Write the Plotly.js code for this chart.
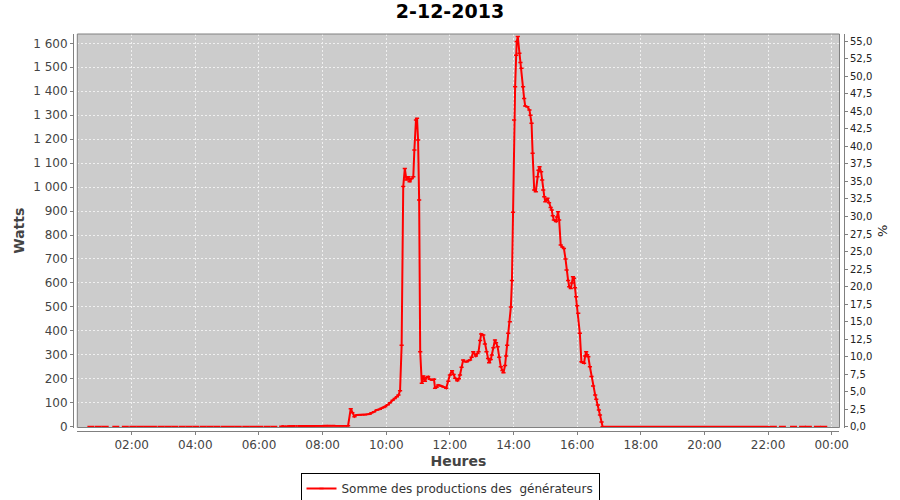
<!DOCTYPE html>
<html>
<head>
<meta charset="utf-8">
<script src="https://cdn.plot.ly/plotly-3.0.1.min.js"></script>
<style>html,body{margin:0;padding:0;background:#fff;}#chart{width:900px;height:500px;}</style>
</head>
<body>
<div id="chart"></div>
<script>
// ---- data ----
const chartDate = '2013-12-02';
const chartTitle = '2-12-2013';
const seriesName = 'Somme des productions des\u00a0 générateurs';

const mainTimes = [
  '06:42','06:48','06:50','06:53','07:00','07:08','07:10','07:13','07:20','07:28','07:35','07:42','07:50','07:58',
  '08:05','08:12','08:20','08:28','08:35','08:42','08:48','08:53','08:56',
  '09:00','09:04','09:10','09:15','09:20','09:25','09:29','09:32','09:37','09:42','09:48','09:51','09:55','09:58',
  '10:03','10:07','10:12','10:16','10:20','10:23','10:26','10:29','10:32','10:35','10:38','10:42','10:44','10:48',
  '10:51','10:53','10:56','10:58','11:00','11:02','11:04','11:07','11:10','11:13','11:16','11:19','11:22','11:26',
  '11:30','11:32','11:35','11:38','11:41','11:44','11:48','11:53','11:57','12:00','12:04','12:07','12:10','12:14',
  '12:17','12:19','12:22','12:25','12:28','12:32','12:35','12:38','12:41','12:44','12:49','12:52','12:54','12:57',
  '12:59','13:03','13:06','13:09','13:12','13:14','13:17','13:19','13:22','13:25','13:27','13:30','13:33','13:36',
  '13:39','13:41','13:44','13:46','13:48','13:50','13:53','13:55','13:57','13:59','14:01','14:03','14:05','14:06',
  '14:08','14:11','14:13','14:15','14:18','14:20','14:22','14:26','14:30','14:32','14:34','14:36','14:39','14:42',
  '14:45','14:47','14:49','14:52','14:54','14:56','14:58','15:00','15:02','15:04','15:07','15:10','15:12','15:14',
  '15:16','15:20','15:22','15:24','15:26','15:29','15:32','15:35','15:38','15:40','15:43','15:45','15:48','15:50',
  '15:52','15:54','15:56','15:58','16:00','16:02','16:05','16:08','16:10','16:13','16:15','16:17','16:19','16:21',
  '16:24','16:27','16:30','16:34','16:36','16:39','16:41','16:43','16:46','16:48','16:55','17:05','17:15','17:25',
  '17:35','17:45','17:55','18:05','18:15','18:25','18:35','18:45','18:55','19:05','19:15','19:25','19:35','19:45',
  '19:55','20:05','20:15','20:25','20:35','20:45','20:55','21:05','21:15','21:25','21:35','21:45','21:55','22:00'
];
const mainWatts = [
  2,2,null,2,3,3,null,3,3,3,3,3,4,4,
  5,5,5,4,4,4,4,75,58,
  42,49,49,50,50,52,53,58,62,70,73,77,80,83,
  92,100,110,118,125,132,150,340,1002,1078,1030,1043,1022,1036,
  1043,1155,1280,1287,1196,946,313,181,212,190,205,209,198,195,
  198,160,165,174,172,170,166,160,190,216,234,218,202,192,
  200,216,248,278,272,271,276,278,290,313,295,305,313,360,
  387,383,345,313,285,267,280,299,330,362,350,334,290,250,
  235,225,255,295,340,390,438,500,610,895,1280,1419,1550,1607,
  1628,1558,1520,1496,1419,1370,1338,1335,1322,1300,1266,1141,988,981,
  1043,1070,1085,1064,1030,988,960,939,945,953,935,915,904,880,
  863,856,875,897,863,758,750,744,700,654,610,584,577,600,
  626,619,580,542,505,473,390,271,268,265,295,313,300,292,
  250,209,170,132,115,91,70,49,20,0,0,0,0,0,
  0,0,0,0,0,0,0,0,0,0,0,0,0,0,
  0,0,0,0,0,0,0,0,0,0,0,0,0,0
];
// isolated night readings (drawn as single dashes)
const nightTimes = [
  '00:43','00:57','01:10','01:30','01:48','02:02','02:15','02:28','02:41','02:55','03:08','03:21','03:35',
  '03:48','04:01','04:15','04:28','04:41','04:55','05:08','05:21','05:35','05:48','06:01','06:15','06:28',
  '22:10','22:27','22:48','23:05','23:16','23:33','23:45'
];
const nightWatts = [
  0,0,0,0,0,0,0,0,0,0,0,0,0,
  0,0,0,0,0,0,0,0,0,0,0,0,0,
  0,0,0,0,0,0,0
];
const xRange = ['2013-12-02 00:17:24', '2013-12-03 00:14:40'];
const wattsRange = [-3.34, 1638.8];
const percentRange = [-0.114, 56.04];

// ---- build ----
const toDate = t => chartDate + ' ' + t;
const RED = '#ff0000';

const traces = [
  {
    x: mainTimes.map(toDate), y: mainWatts, type: 'scatter', mode: 'lines+markers',
    name: seriesName, line: {color: RED, width: 2},
    marker: {symbol: 'line-ew', size: 3, color: RED, line: {width: 1.5, color: RED}},
    connectgaps: false, showlegend: true, hoverinfo: 'x+y'
  },
  {
    x: nightTimes.map(toDate), y: nightWatts, type: 'scatter', mode: 'markers',
    marker: {symbol: 'line-ew', size: 5, color: RED, line: {width: 2, color: RED}},
    showlegend: false, hoverinfo: 'x+y'
  },
  { x: [], y: [], yaxis: 'y2', type: 'scatter', mode: 'lines', showlegend: false, hoverinfo: 'skip' }
];

const AX = '#808080';
const GRID = '#f0f0f0';
const FONT = 'DejaVu Sans, Verdana, sans-serif';

const layout = {
  width: 900, height: 500,
  paper_bgcolor: '#ffffff', plot_bgcolor: '#cccccc',
  separators: ', ',
  margin: {l: 73, r: 56, t: 34, b: 69, pad: 0},
  font: {family: FONT, size: 12, color: '#444444'},
  title: {
    text: chartTitle, x: 0.5, xref: 'container', xanchor: 'center',
    y: 0.977, yref: 'container', yanchor: 'middle',
    font: {family: FONT, size: 19, color: '#000000', weight: 'bold'}
  },
  showlegend: true,
  legend: {
    orientation: 'h', x: 0.5, xref: 'container', xanchor: 'center',
    y: 0.054, yref: 'container', yanchor: 'top',
    bordercolor: '#000000', borderwidth: 1, bgcolor: '#ffffff',
    font: {family: FONT, size: 12, color: '#333333'}
  },
  xaxis: {
    type: 'date', domain: [0.00558, 0.99416], anchor: 'free', position: 0,
    range: xRange, tickformat: '%H:%M', tick0: '2013-12-02 00:00', dtick: 7200000,
    ticks: 'outside', ticklen: 3, tickcolor: AX, tickwidth: 1,
    showline: true, linecolor: AX, linewidth: 1,
    showgrid: true, gridcolor: GRID, griddash: '2px,2px', gridwidth: 1, zeroline: false,
    tickfont: {family: FONT, size: 12, color: '#444444'},
    title: {text: 'Heures', standoff: 4, font: {family: FONT, size: 14, color: '#444444', weight: 'bold'}},
    automargin: false, fixedrange: true
  },
  yaxis: {
    domain: [0.0088, 1], anchor: 'free', position: 0,
    range: wattsRange, tick0: 0, dtick: 100, tickformat: ',d',
    ticks: 'outside', ticklen: 3, tickcolor: AX, tickwidth: 1,
    showline: true, linecolor: AX, linewidth: 1,
    showgrid: true, gridcolor: GRID, griddash: '2px,2px', gridwidth: 1, zeroline: false,
    tickfont: {family: FONT, size: 12, color: '#444444'},
    title: {text: 'Watts', standoff: 4, font: {family: FONT, size: 14, color: '#444444', weight: 'bold'}},
    automargin: false, fixedrange: true
  },
  yaxis2: {
    overlaying: 'y', side: 'right', anchor: 'free', position: 1,
    range: percentRange, tick0: 0, dtick: 2.5, tickformat: '.1f',
    ticks: 'outside', ticklen: 3, tickcolor: AX, tickwidth: 1,
    showline: true, linecolor: AX, linewidth: 1,
    showgrid: false, zeroline: false,
    tickfont: {family: FONT, size: 10, color: '#222222'},
    title: {text: '%', standoff: 6, font: {family: FONT, size: 13, color: '#222222'}},
    automargin: false, fixedrange: true
  },
  shapes: [
    {type: 'rect', xref: 'x domain', yref: 'y domain', x0: 0, x1: 1, y0: 0, y1: 1,
     line: {color: AX, width: 1}, fillcolor: 'rgba(0,0,0,0)', layer: 'above'}
  ]
};

Plotly.newPlot('chart', traces, layout, {staticPlot: true, displayModeBar: false});
</script>
</body>
</html>
